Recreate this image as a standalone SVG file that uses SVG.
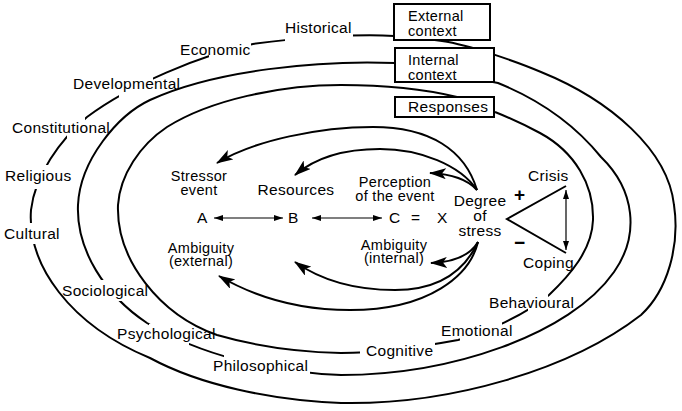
<svg xmlns="http://www.w3.org/2000/svg" width="682" height="411" viewBox="0 0 682 411">
<style>
text{font-family:"Liberation Sans",Arial,sans-serif;font-size:15.5px;fill:#000;letter-spacing:0.3px}
.s{font-size:14.5px}
.m{text-anchor:middle}
.sign{font-size:19px;font-weight:bold}
.ring{fill:none;stroke:#000;stroke-width:2}
.box{fill:#fff;stroke:#000;stroke-width:2}
.arr{fill:none;stroke:#000;stroke-width:2;marker-end:url(#ah)}
.thin{fill:none;stroke:#000;stroke-width:1.2}
</style>
<defs>
<marker id="ah" markerUnits="userSpaceOnUse" markerWidth="17" markerHeight="11" refX="16" refY="5.5" orient="auto"><path d="M0,0 L17,5.5 L0,11 L4,5.5 z"/></marker>
<marker id="sh" markerUnits="userSpaceOnUse" markerWidth="9" markerHeight="6" refX="9" refY="3" orient="auto-start-reverse"><path d="M0,0 L9,3 L0,6 z"/></marker>
<mask id="mOuter" maskUnits="userSpaceOnUse" x="0" y="0" width="682" height="411">
<rect width="682" height="411" fill="#fff"/>
<rect x="285" y="24" width="68" height="22" fill="#000"/>
<rect x="209" y="38" width="42" height="24" fill="#000"/>
<rect x="119" y="68" width="34" height="30" fill="#000"/>
<rect x="67" y="114" width="18" height="26" fill="#000"/>
<rect x="22" y="165" width="28" height="24" fill="#000"/>
<rect x="18" y="223" width="28" height="21" fill="#000"/>
</mask>
<mask id="mMid" maskUnits="userSpaceOnUse" x="0" y="0" width="682" height="411">
<rect width="682" height="411" fill="#fff"/>
<rect x="85" y="280" width="55" height="21" fill="#000"/>
<rect x="149" y="324" width="40" height="22" fill="#000"/>
<rect x="224" y="350" width="86" height="30" fill="#000"/>
</mask>
<mask id="mIn" maskUnits="userSpaceOnUse" x="0" y="0" width="682" height="411">
<rect width="682" height="411" fill="#fff"/>
<rect x="360" y="335" width="75" height="27" fill="#000"/>
<rect x="460" y="318" width="42" height="27" fill="#000"/>
<rect x="528" y="290" width="20" height="26" fill="#000"/>
</mask>
</defs>
<rect width="682" height="411" fill="#fff"/>

<g id="rings">
<path id="ring-external" class="ring" mask="url(#mOuter)" d="M394,36 C360,34 300,37 253,44 C200,55 130,85 87,117 C60,140 35,175 31,210 C27,265 70,325 150,358 C200,385 270,400 341,403 C450,405 570,370 641,315 C668,290 680,245 674,205 C668,150 610,100 541,72 C520,63 470,45 442,41 C420,38 405,37 394,36"/>
<path id="ring-internal" class="ring" mask="url(#mMid)" d="M395,63 C320,60 215,70 150,100 C118,115 80,160 78,205 C76,250 105,295 147,323 C200,355 270,372 341,375 C450,375 570,335 614,272 C640,235 635,190 601,157 C575,125 540,100 498,83 L395,63"/>
<path id="ring-responses" class="ring" mask="url(#mIn)" d="M457,97 C420,88 380,85 341,85 C280,85 210,100 167,127 C140,145 120,175 118,205 C116,260 160,315 217,335 C255,346 300,352 341,353 C380,353 420,347 458,340 C485,333 525,315 549,295 C570,275 592,250 593,220 C594,185 575,152 540,133 C525,125 510,118 495,112"/>
</g>

<g id="ring-labels">
<text x="285" y="33">Historical</text>
<text x="180" y="55">Economic</text>
<text x="73" y="89">Developmental</text>
<text x="12" y="133">Constitutional</text>
<text x="5" y="181">Religious</text>
<text x="4" y="239">Cultural</text>
<text x="62" y="296">Sociological</text>
<text x="117" y="339">Psychological</text>
<text x="213" y="371">Philosophical</text>
<text x="366" y="356">Cognitive</text>
<text x="441" y="336">Emotional</text>
<text x="489" y="308">Behavioural</text>
</g>

<g id="external-context">
<rect class="box" x="394" y="4" width="96" height="36"/>
<text class="s" x="408" y="21">External</text>
<text class="s" x="408" y="36">context</text>
</g>
<g id="internal-context">
<rect class="box" x="395" y="48" width="99" height="34"/>
<text class="s" x="408" y="65">Internal</text>
<text class="s" x="408" y="80">context</text>
</g>
<g id="responses">
<rect class="box" x="395" y="97" width="99" height="20"/>
<text x="408" y="112">Responses</text>
</g>

<g id="stressor-event"><text class="m s" x="199" y="181">Stressor</text><text class="m s" x="199" y="195">event</text></g>
<g id="resources"><text class="m" x="296" y="195">Resources</text></g>
<g id="perception"><text class="m s" x="395" y="187">Perception</text><text class="m s" x="395" y="201">of the event</text></g>
<g id="ambiguity-external"><text class="m s" x="201" y="253">Ambiguity</text><text class="m s" x="201" y="266">(external)</text></g>
<g id="ambiguity-internal"><text class="m s" x="394" y="250">Ambiguity</text><text class="m s" x="394" y="263">(internal)</text></g>
<g id="node-a"><text x="197" y="223">A</text></g>
<g id="node-b"><text x="288" y="223">B</text></g>
<g id="node-c"><text x="389" y="223">C</text></g>
<g id="equals"><text x="411" y="223">=</text></g>
<g id="node-x"><text x="437" y="223">X</text></g>
<g id="degree-of-stress"><text class="m" x="480" y="206">Degree</text><text class="m" x="480" y="221">of</text><text class="m" x="480" y="236">stress</text></g>
<g id="crisis"><text x="528" y="181">Crisis</text><text class="sign" x="514" y="201">+</text></g>
<g id="coping"><text x="523" y="268">Coping</text><text class="sign" x="514" y="249">−</text></g>

<g id="connectors">
<path class="arr" d="M477,190 C465,150 430,127 373,127 C320,127 255,140 217,163"/>
<path class="arr" d="M477,190 C460,165 420,149 380,149 C345,149 315,158 295,175"/>
<path class="arr" d="M477,190 C468,180 452,174 430,173"/>
<path class="arr" d="M478,242 C472,252 460,262 431,263"/>
<path class="arr" d="M478,242 C465,270 440,290 395,290 C360,290 325,283 295,262"/>
<path class="arr" d="M478,242 C470,275 430,310 350,310 C300,310 255,297 219,276"/>
<line class="thin" x1="214" y1="218" x2="283" y2="218" marker-start="url(#sh)" marker-end="url(#sh)"/>
<line class="thin" x1="312" y1="218" x2="382" y2="218" marker-start="url(#sh)" marker-end="url(#sh)"/>
<polyline fill="none" stroke="#000" stroke-width="2" points="566,186 507,219 566,253"/>
<line class="thin" x1="566" y1="190" x2="566" y2="250" marker-start="url(#sh)" marker-end="url(#sh)"/>
</g>
</svg>
